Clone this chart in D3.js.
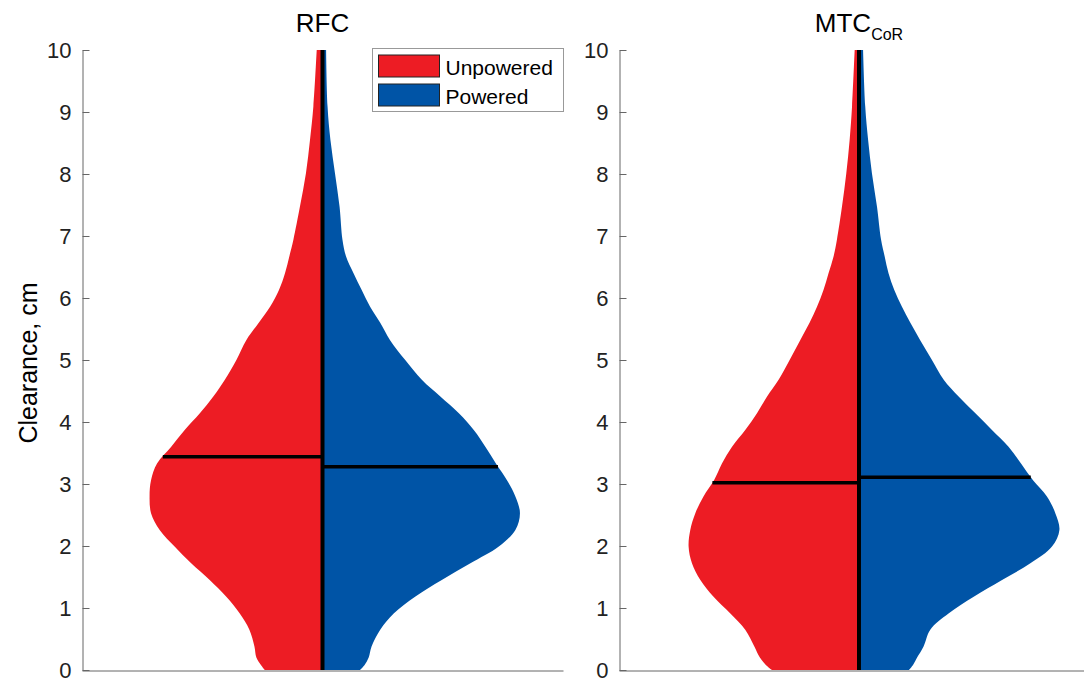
<!DOCTYPE html>
<html>
<head>
<meta charset="utf-8">
<script src="https://cdn.jsdelivr.net/npm/d3@7"></script>
<style>
  body { margin: 0; background: #fff; }
  svg { display: block; }
  text { font-family: "Liberation Sans", Arial, sans-serif; }
</style>
</head>
<body>
<svg id="chart" width="1084" height="686"></svg>
<script>
// Clearance levels (cm) at which the kernel density half-widths are sampled
const clearance = [0, 0.08, 0.2, 0.38, 0.65, 0.91, 1.18, 1.45, 1.72, 1.99, 2.26, 2.53, 2.8, 3.06, 3.33, 3.6,
  3.87, 4.14, 4.41, 4.68, 5.0, 5.32, 5.6, 5.86, 6.13, 6.4, 6.67, 6.94, 7.47, 8.01, 8.55, 9.09, 10];

// Violin half-widths (x units, panel spans -1..1)
const rfcUnpowered = [0.240, 0.256, 0.275, 0.283, 0.304, 0.344, 0.400, 0.469, 0.546, 0.615, 0.677, 0.713, 0.719,
  0.713, 0.688, 0.629, 0.573, 0.510, 0.454, 0.406, 0.358, 0.317, 0.265, 0.218, 0.181, 0.156, 0.138, 0.121,
  0.094, 0.069, 0.052, 0.038, 0.024];
const rfcPowered = [0.156, 0.175, 0.192, 0.204, 0.240, 0.296, 0.385, 0.496, 0.615, 0.733, 0.802, 0.821, 0.802,
  0.767, 0.721, 0.677, 0.629, 0.567, 0.490, 0.413, 0.344, 0.281, 0.240, 0.198, 0.163, 0.129, 0.098, 0.083,
  0.071, 0.052, 0.033, 0.021, 0.015];
const mtcUnpowered = [0.363, 0.388, 0.413, 0.436, 0.474, 0.536, 0.606, 0.661, 0.696, 0.710, 0.703, 0.682, 0.648,
  0.604, 0.571, 0.529, 0.474, 0.425, 0.383, 0.335, 0.289, 0.245, 0.206, 0.175, 0.148, 0.127, 0.106, 0.092,
  0.071, 0.053, 0.039, 0.029, 0.018];
const mtcPowered = [0.208, 0.225, 0.242, 0.269, 0.297, 0.373, 0.478, 0.596, 0.714, 0.804, 0.835, 0.818, 0.783,
  0.725, 0.675, 0.623, 0.554, 0.485, 0.415, 0.353, 0.304, 0.255, 0.214, 0.179, 0.147, 0.123, 0.107, 0.092,
  0.075, 0.054, 0.038, 0.026, 0.017];

// Medians (cm): [unpowered, powered]
const rfcMedians = [3.44, 3.28];
const mtcMedians = [3.02, 3.11];

const panelTitles = ["RFC", "MTC"];
const panelSubscripts = ["", "CoR"];
const seriesNames = ["Unpowered", "Powered"];
const seriesColors = ["#ED1C24", "#0054A6"];
const yTicks = [0, 1, 2, 3, 4, 5, 6, 7, 8, 9, 10];
const yLabel = "Clearance, cm";

const panels = [
  { title: panelTitles[0], sub: panelSubscripts[0], widths: [rfcUnpowered, rfcPowered], medians: rfcMedians, x0: 82, x1: 563 },
  { title: panelTitles[1], sub: panelSubscripts[1], widths: [mtcUnpowered, mtcPowered], medians: mtcMedians, x0: 619, x1: 1099 }
];

const svg = d3.select("#chart");
const plotTop = 50, plotBottom = 670;
const y = d3.scaleLinear().domain([0, 10]).range([plotBottom, plotTop]);
const axisColor = "#666";

function widthAt(ws, v) {
  const i = Math.max(1, d3.bisectLeft(clearance, v));
  const t = (v - clearance[i - 1]) / (clearance[i] - clearance[i - 1]);
  return ws[i - 1] + t * (ws[i] - ws[i - 1]);
}

panels.forEach((p) => {
  const x = d3.scaleLinear().domain([-1, 1]).range([p.x0, p.x1]);
  const g = svg.append("g");

  // violin halves: unpowered to the left, powered to the right
  p.widths.forEach((ws, si) => {
    const sign = si === 0 ? -1 : 1;
    const pts = clearance.map((c, i) => ({ c, w: ws[i] }));
    const area = d3.area()
      .curve(d3.curveCatmullRom.alpha(0.5))
      .y(d => y(d.c))
      .x0(() => x(0))
      .x1(d => x(sign * d.w));
    g.append("path")
      .datum(pts)
      .attr("d", area)
      .attr("fill", seriesColors[si]);
  });

  // median lines
  p.medians.forEach((m, si) => {
    const sign = si === 0 ? -1 : 1;
    g.append("line")
      .attr("x1", x(0))
      .attr("x2", x(sign * widthAt(p.widths[si], m)))
      .attr("y1", y(m)).attr("y2", y(m))
      .attr("stroke", "#000").attr("stroke-width", 3.5);
  });

  // centre line
  g.append("line")
    .attr("x1", x(0)).attr("x2", x(0))
    .attr("y1", y(0)).attr("y2", y(10))
    .attr("stroke", "#000").attr("stroke-width", 4);

  // y axis
  const ya = g.append("g")
    .attr("transform", `translate(${p.x0 + 0.5},0)`)
    .call(d3.axisLeft(y).tickValues(yTicks).tickFormat(d3.format("d"))
      .tickSizeInner(-7).tickSizeOuter(0).tickPadding(11));
  ya.select(".domain").attr("stroke", axisColor);
  ya.selectAll(".tick line").attr("stroke", axisColor);
  ya.selectAll(".tick text").attr("font-size", 22).attr("fill", "#222")
    .attr("font-family", "'Liberation Sans', Arial, sans-serif");

  // x axis baseline
  const xa = g.append("g")
    .attr("transform", `translate(0,${plotBottom + 0.5})`)
    .call(d3.axisBottom(x).tickValues([]).tickSizeOuter(0));
  xa.select(".domain").attr("stroke", axisColor);

  // title
  const t = g.append("text")
    .attr("x", x(0)).attr("y", 32)
    .attr("text-anchor", "middle")
    .attr("font-size", 26).attr("fill", "#000");
  t.append("tspan").text(p.title);
  if (p.sub) {
    t.append("tspan").attr("dy", 8).attr("font-size", 16).text(p.sub);
  }
});

// y axis label
svg.append("text")
  .attr("transform", `translate(37,${(plotTop + plotBottom) / 2 + 3}) rotate(-90)`)
  .attr("text-anchor", "middle")
  .attr("font-size", 25).attr("fill", "#000")
  .text(yLabel);

// legend
const lg = svg.append("g").attr("transform", "translate(372.5,48.5)");
lg.append("rect").attr("width", 191).attr("height", 63)
  .attr("fill", "#fff").attr("stroke", "#999");
seriesNames.forEach((name, i) => {
  const row = lg.append("g").attr("transform", `translate(0,${i * 29})`);
  row.append("rect").attr("x", 6).attr("y", 6.5).attr("width", 61).attr("height", 22)
    .attr("fill", seriesColors[i]).attr("stroke", "#222");
  row.append("text").attr("x", 73).attr("y", 26.5)
    .attr("font-size", 21).attr("fill", "#000").text(name);
});
</script>
</body>
</html>
